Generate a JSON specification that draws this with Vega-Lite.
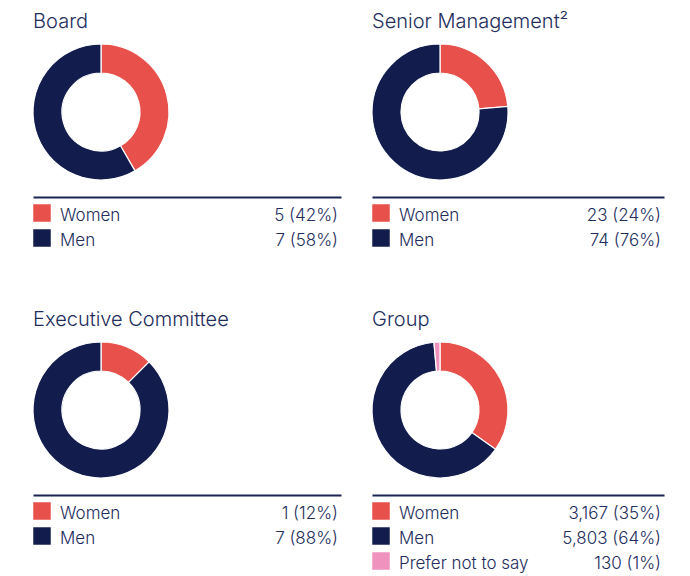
{
  "$schema": "https://vega.github.io/schema/vega-lite/v6.json",
  "padding": {"left": 30, "top": 12, "right": 20, "bottom": 0},
  "background": "white",
  "config": {
    "view": {"stroke": null},
    "font": "Inter",
    "title": {"anchor": "start", "fontSize": 20, "fontWeight": 300, "color": "#232D5C", "font": "Inter", "offset": 9.5, "baseline": "alphabetic", "dx": 2.5},
    "text": {"font": "Inter", "fontSize": 17, "fontWeight": 300, "color": "#232D5C"}
  },
  "datasets": {
    "d": [
      {"panel": "Board", "category": "Women", "idx": 1, "count": 5, "label": "5 (42%)"},
      {"panel": "Board", "category": "Men", "idx": 2, "count": 7, "label": "7 (58%)"},
      {"panel": "Senior", "category": "Women", "idx": 1, "count": 23, "label": "23 (24%)"},
      {"panel": "Senior", "category": "Men", "idx": 2, "count": 74, "label": "74 (76%)"},
      {"panel": "Exec", "category": "Women", "idx": 1, "count": 1, "label": "1 (12%)"},
      {"panel": "Exec", "category": "Men", "idx": 2, "count": 7, "label": "7 (88%)"},
      {"panel": "Group", "category": "Women", "idx": 1, "count": 3167, "label": "3,167 (35%)"},
      {"panel": "Group", "category": "Men", "idx": 2, "count": 5803, "label": "5,803 (64%)"},
      {"panel": "Group", "category": "Prefer not to say", "idx": 3, "count": 130, "label": "130 (1%)"}
    ]
  },
  "spacing": 56,
  "vconcat": [
    {
      "spacing": 28,
      "hconcat": [
        {
          "spacing": 14,
          "vconcat": [
            {
              "title": {"text": "Board"},
              "width": 136, "height": 136,
              "data": {"name": "d"},
              "transform": [{"filter": "datum.panel === 'Board'"}],
              "mark": {"type": "arc", "outerRadius": 68, "innerRadius": 39, "stroke": "white", "strokeWidth": 1.2},
              "encoding": {
                "theta": {"field": "count", "type": "quantitative", "stack": true},
                "order": {"field": "idx", "type": "quantitative"},
                "color": {"field": "category", "type": "nominal", "scale": {"domain": ["Women", "Men", "Prefer not to say"], "range": ["#E8504B", "#121D4E", "#F092BE"]}, "legend": null}
              }
            },
            {
              "width": 308, "height": {"step": 25},
              "data": {"name": "d"},
              "transform": [{"filter": "datum.panel === 'Board'"}],
              "encoding": {"y": {"field": "category", "type": "nominal", "sort": {"field": "idx"}, "scale": {"type": "point", "padding": 0.64}, "axis": null}},
              "layer": [
                {"mark": {"type": "square", "size": 306, "filled": true, "opacity": 1},
                 "encoding": {"x": {"datum": 0, "type": "quantitative", "scale": {"domain": [0, 1], "padding": 9, "nice": false, "zero": false}, "axis": {"orient": "top", "labels": false, "ticks": false, "grid": false, "title": null, "domainColor": "#1B2452", "domainWidth": 2}},
                   "color": {"field": "category", "type": "nominal", "scale": {"domain": ["Women", "Men", "Prefer not to say"], "range": ["#E8504B", "#121D4E", "#F092BE"]}, "legend": null}}},
                {"mark": {"type": "text", "align": "left", "baseline": "alphabetic", "dx": 18, "dy": 8},
                 "encoding": {"x": {"datum": 0, "type": "quantitative"}, "text": {"field": "category"}}},
                {"mark": {"type": "text", "align": "right", "baseline": "alphabetic", "dx": 6, "dy": 8},
                 "encoding": {"x": {"datum": 1, "type": "quantitative"}, "text": {"field": "label"}}}
              ]
            }
          ]
        },
        {
          "spacing": 14,
          "vconcat": [
            {
              "title": {"text": "Senior Management²"},
              "width": 136, "height": 136,
              "data": {"name": "d"},
              "transform": [{"filter": "datum.panel === 'Senior'"}],
              "mark": {"type": "arc", "outerRadius": 68, "innerRadius": 39, "stroke": "white", "strokeWidth": 1.2},
              "encoding": {
                "theta": {"field": "count", "type": "quantitative", "stack": true},
                "order": {"field": "idx", "type": "quantitative"},
                "color": {"field": "category", "type": "nominal", "scale": {"domain": ["Women", "Men", "Prefer not to say"], "range": ["#E8504B", "#121D4E", "#F092BE"]}, "legend": null}
              }
            },
            {
              "width": 292, "height": {"step": 25},
              "data": {"name": "d"},
              "transform": [{"filter": "datum.panel === 'Senior'"}],
              "encoding": {"y": {"field": "category", "type": "nominal", "sort": {"field": "idx"}, "scale": {"type": "point", "padding": 0.64}, "axis": null}},
              "layer": [
                {"mark": {"type": "square", "size": 306, "filled": true, "opacity": 1},
                 "encoding": {"x": {"datum": 0, "type": "quantitative", "scale": {"domain": [0, 1], "padding": 9, "nice": false, "zero": false}, "axis": {"orient": "top", "labels": false, "ticks": false, "grid": false, "title": null, "domainColor": "#1B2452", "domainWidth": 2}},
                   "color": {"field": "category", "type": "nominal", "scale": {"domain": ["Women", "Men", "Prefer not to say"], "range": ["#E8504B", "#121D4E", "#F092BE"]}, "legend": null}}},
                {"mark": {"type": "text", "align": "left", "baseline": "alphabetic", "dx": 18, "dy": 8},
                 "encoding": {"x": {"datum": 0, "type": "quantitative"}, "text": {"field": "category"}}},
                {"mark": {"type": "text", "align": "right", "baseline": "alphabetic", "dx": 6, "dy": 8},
                 "encoding": {"x": {"datum": 1, "type": "quantitative"}, "text": {"field": "label"}}}
              ]
            }
          ]
        }
      ]
    },
    {
      "spacing": 28,
      "hconcat": [
        {
          "spacing": 14,
          "vconcat": [
            {
              "title": {"text": "Executive Committee"},
              "width": 136, "height": 136,
              "data": {"name": "d"},
              "transform": [{"filter": "datum.panel === 'Exec'"}],
              "mark": {"type": "arc", "outerRadius": 68, "innerRadius": 39, "stroke": "white", "strokeWidth": 1.2},
              "encoding": {
                "theta": {"field": "count", "type": "quantitative", "stack": true},
                "order": {"field": "idx", "type": "quantitative"},
                "color": {"field": "category", "type": "nominal", "scale": {"domain": ["Women", "Men", "Prefer not to say"], "range": ["#E8504B", "#121D4E", "#F092BE"]}, "legend": null}
              }
            },
            {
              "width": 308, "height": {"step": 25},
              "data": {"name": "d"},
              "transform": [{"filter": "datum.panel === 'Exec'"}],
              "encoding": {"y": {"field": "category", "type": "nominal", "sort": {"field": "idx"}, "scale": {"type": "point", "padding": 0.64}, "axis": null}},
              "layer": [
                {"mark": {"type": "square", "size": 306, "filled": true, "opacity": 1},
                 "encoding": {"x": {"datum": 0, "type": "quantitative", "scale": {"domain": [0, 1], "padding": 9, "nice": false, "zero": false}, "axis": {"orient": "top", "labels": false, "ticks": false, "grid": false, "title": null, "domainColor": "#1B2452", "domainWidth": 2}},
                   "color": {"field": "category", "type": "nominal", "scale": {"domain": ["Women", "Men", "Prefer not to say"], "range": ["#E8504B", "#121D4E", "#F092BE"]}, "legend": null}}},
                {"mark": {"type": "text", "align": "left", "baseline": "alphabetic", "dx": 18, "dy": 8},
                 "encoding": {"x": {"datum": 0, "type": "quantitative"}, "text": {"field": "category"}}},
                {"mark": {"type": "text", "align": "right", "baseline": "alphabetic", "dx": 6, "dy": 8},
                 "encoding": {"x": {"datum": 1, "type": "quantitative"}, "text": {"field": "label"}}}
              ]
            }
          ]
        },
        {
          "spacing": 14,
          "vconcat": [
            {
              "title": {"text": "Group"},
              "width": 136, "height": 136,
              "data": {"name": "d"},
              "transform": [{"filter": "datum.panel === 'Group'"}],
              "mark": {"type": "arc", "outerRadius": 68, "innerRadius": 39, "stroke": "white", "strokeWidth": 1.2},
              "encoding": {
                "theta": {"field": "count", "type": "quantitative", "stack": true},
                "order": {"field": "idx", "type": "quantitative"},
                "color": {"field": "category", "type": "nominal", "scale": {"domain": ["Women", "Men", "Prefer not to say"], "range": ["#E8504B", "#121D4E", "#F092BE"]}, "legend": null}
              }
            },
            {
              "width": 292, "height": {"step": 25},
              "data": {"name": "d"},
              "transform": [{"filter": "datum.panel === 'Group'"}],
              "encoding": {"y": {"field": "category", "type": "nominal", "sort": {"field": "idx"}, "scale": {"type": "point", "padding": 0.64}, "axis": null}},
              "layer": [
                {"mark": {"type": "square", "size": 306, "filled": true, "opacity": 1},
                 "encoding": {"x": {"datum": 0, "type": "quantitative", "scale": {"domain": [0, 1], "padding": 9, "nice": false, "zero": false}, "axis": {"orient": "top", "labels": false, "ticks": false, "grid": false, "title": null, "domainColor": "#1B2452", "domainWidth": 2}},
                   "color": {"field": "category", "type": "nominal", "scale": {"domain": ["Women", "Men", "Prefer not to say"], "range": ["#E8504B", "#121D4E", "#F092BE"]}, "legend": null}}},
                {"mark": {"type": "text", "align": "left", "baseline": "alphabetic", "dx": 18, "dy": 8},
                 "encoding": {"x": {"datum": 0, "type": "quantitative"}, "text": {"field": "category"}}},
                {"mark": {"type": "text", "align": "right", "baseline": "alphabetic", "dx": 6, "dy": 8},
                 "encoding": {"x": {"datum": 1, "type": "quantitative"}, "text": {"field": "label"}}}
              ]
            }
          ]
        }
      ]
    }
  ]
}
